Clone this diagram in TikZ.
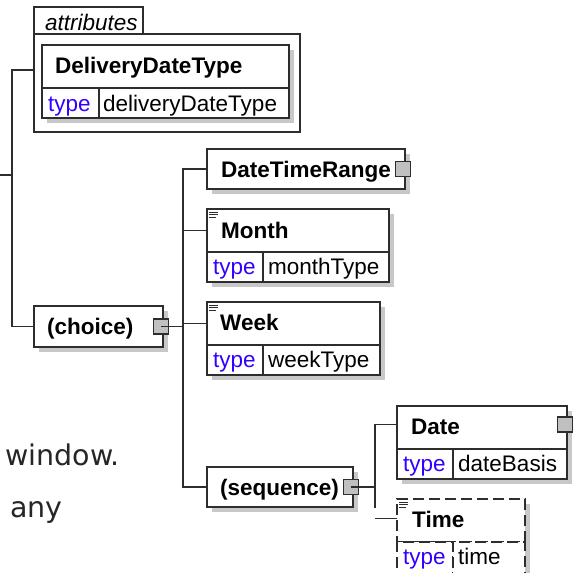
\documentclass[tikz,border=0pt]{standalone}
\usepackage{fontspec}
\setmainfont{Liberation Sans}
\newfontfamily\notefont{DejaVu Sans}
\usepackage{xcolor}
\usetikzlibrary{positioning,shadows}
\definecolor{boxline}{RGB}{45,45,45}
\definecolor{shadegray}{RGB}{200,200,200}
\definecolor{typeblue}{RGB}{51,0,255}
\definecolor{plusgray}{RGB}{192,192,192}
\newcommand{\boxfont}{\fontsize{22.5}{27}\selectfont}
\newcommand{\docicon}[1]{\draw[boxline,line width=0.9pt]
  ([shift={(2,3)}]#1.north west) -- ++(9,0)
  ([shift={(2,5.5)}]#1.north west) -- ++(9,0)
  ([shift={(2,8)}]#1.north west) -- ++(7,0);}

\tikzset{
  wire/.style={draw=boxline,line width=1.5pt},
  xbox/.style={draw=boxline,fill=white,line width=1.5pt,anchor=north west,inner sep=0pt,outer sep=0pt},
  shadowed/.style={drop shadow={shadow xshift=5pt,shadow yshift=-5pt,fill=shadegray,opacity=1}},
  headbox/.style={xbox,shadowed,minimum height=43pt},
  rowbox/.style={xbox,shadowed,minimum height=30pt},
  namebox/.style={xbox,shadowed,minimum height=40pt},
  title/.style={anchor=base west,inner sep=0pt,font=\boxfont\bfseries},
  plain/.style={anchor=base west,inner sep=0pt,font=\boxfont},
  kw/.style={plain,text=typeblue},
  expander/.style={draw=boxline,fill=plusgray,line width=1.3pt,minimum size=15pt,inner sep=0pt},
  note/.style={anchor=base west,inner sep=0pt,font=\notefont\fontsize{28.5}{34}\selectfont,text=black!85}
}

\begin{document}
\begin{tikzpicture}[x=1pt,y=-1pt]
\useasboundingbox (0,0) rectangle (573,573);

% attributes group
\node[xbox,minimum width=266pt,minimum height=98pt] (attr) at (34,34) {};
\node[xbox,minimum width=109pt,minimum height=27pt] (tab) at (34,7) {};
\node[plain,font=\boxfont\itshape] (tab-l) at (45,30) {attributes};
\node[headbox,minimum width=247pt] (ddt) at (42,45) {};
\node[title] (ddt-l) at (55,73) {DeliveryDateType};
\node[rowbox,minimum width=57pt] (ddt-k) at (ddt.south west) {};
\node[rowbox,minimum width=190pt] (ddt-v) at (ddt-k.north east) {};
\node[kw] (ddt-kl) at (48,111) {type};
\node[plain] (ddt-vl) at (103,111) {deliveryDateType};

% choice and its children
\node[namebox,minimum width=129pt,minimum height=41pt] (choice) at (34,306) {};
\node[title] (choice-l) at (47,334) {(choice)};
\node[expander] (cx) at ([xshift=-2pt]choice.east) {};

\node[namebox,minimum width=198pt] (dtr) at (207,149) {};
\node[title] (dtr-l) at (221,177) {DateTimeRange};
\node[expander] (dx) at ([xshift=-2pt]dtr.east) {};

\node[headbox,minimum width=182pt] (month) at (207,209) {};
\node[title] (month-l) at (221,238) {Month};
\node[rowbox,minimum width=56pt] (month-k) at (month.south west) {};
\node[rowbox,minimum width=126pt] (month-v) at (month-k.north east) {};
\node[kw] (month-kl) at (213,274) {type};
\node[plain] (month-vl) at (268,274) {monthType};
\docicon{month}

\node[headbox,minimum width=173pt] (week) at (207,302) {};
\node[title] (week-l) at (220,330) {Week};
\node[rowbox,minimum width=56pt] (week-k) at (week.south west) {};
\node[rowbox,minimum width=117pt] (week-v) at (week-k.north east) {};
\node[kw] (week-kl) at (213,367) {type};
\node[plain] (week-vl) at (268,367) {weekType};
\docicon{week}

\node[namebox,minimum width=146pt] (seq) at (207,467) {};
\node[title] (seq-l) at (220,495) {(sequence)};
\node[expander] (sx) at ([xshift=-2pt]seq.east) {};

% sequence children
\node[headbox,minimum width=170pt] (date) at (397,406) {};
\node[title] (date-l) at (411,434) {Date};
\node[rowbox,minimum width=56pt] (date-k) at (date.south west) {};
\node[rowbox,minimum width=114pt] (date-v) at (date-k.north east) {};
\node[kw] (date-kl) at (403,471) {type};
\node[plain] (date-vl) at (458,471) {dateBasis};
\node[expander] (ex) at ([xshift=-2pt,yshift=3pt]date.east) {};

\node[headbox,dash pattern=on 11pt off 5pt,minimum width=128pt] (time) at (397,499) {};
\node[title] (time-l) at (412,527) {Time};
\node[rowbox,dash pattern=on 11pt off 5pt,minimum width=56pt,minimum height=33pt] (time-k) at (time.south west) {};
\node[rowbox,dash pattern=on 11pt off 5pt,minimum width=72pt,minimum height=33pt] (time-v) at (time-k.north east) {};
\node[kw] (time-kl) at (403,564) {type};
\node[plain] (time-vl) at (458,564) {time};
\docicon{time}

% connectors
\coordinate (src) at (0,175);
\coordinate (fork) at (12,175);
\draw[wire] (src) -- (fork);
\draw[wire] ([yshift=13pt]attr.west) -| (fork) |- (choice.west);
\draw[wire] (cx.center) -- ++(22,0) coordinate (cbus);
\draw[wire] (dtr.west) -| (cbus) |- (seq.west);
\draw[wire] (month.west) -- (month.west -| cbus);
\draw[wire] (week.west) -- (week.west -| cbus);
\draw[wire] (sx.center) -- ++(24,0) coordinate (sbus);
\draw[wire] ([yshift=3pt]date.west) -| (sbus) -- ++(0,21);
\draw[wire] ([yshift=2pt]time.west) -- ++(-22,0);

% text to the left
\node[note] (w) at (5,465) {window.};
\node[note] (a) at (10,517) {any};
\end{tikzpicture}
\end{document}
